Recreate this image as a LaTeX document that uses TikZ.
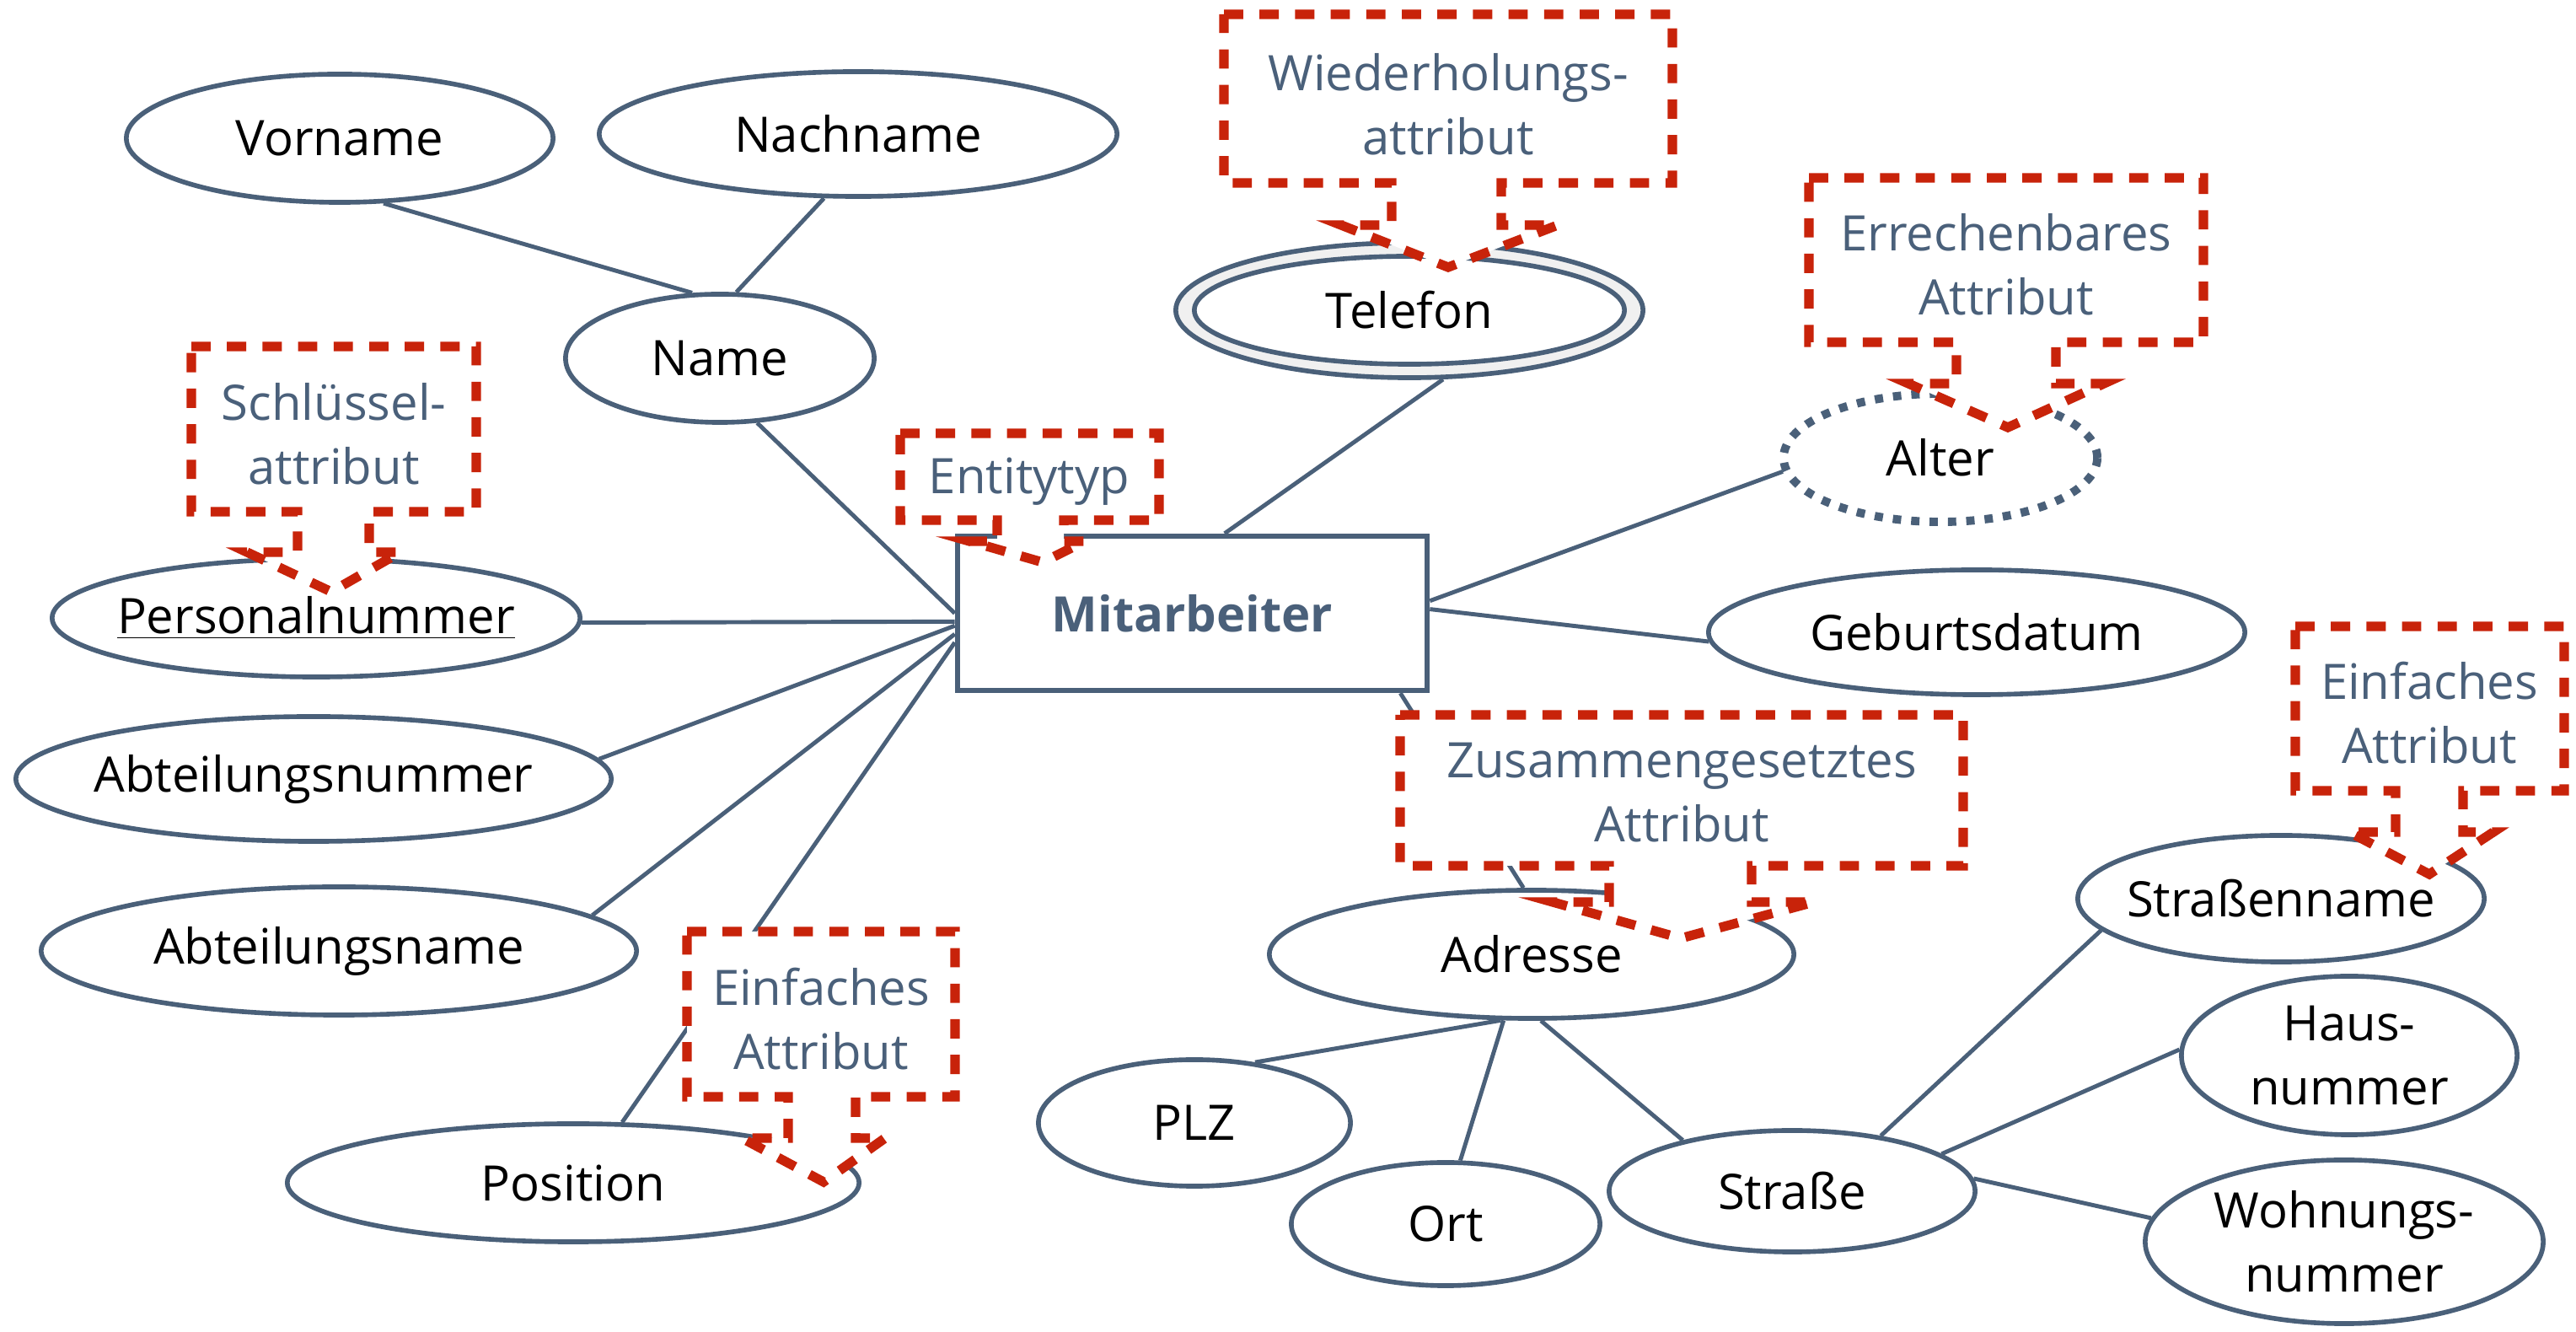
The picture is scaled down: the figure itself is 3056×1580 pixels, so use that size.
\documentclass[tikz,border=0pt]{standalone}
\usepackage{fontspec}
\setmainfont{Open Sans}
\usetikzlibrary{shapes.geometric}

\definecolor{erline}{HTML}{4A6079}
\definecolor{ertext}{HTML}{4A607A}
\definecolor{callred}{HTML}{C8230A}
\definecolor{ringgray}{HTML}{F0F0F0}

\newcommand{\erfont}{\fontsize{16.5pt}{21.6pt}\selectfont}

\begin{document}
\begin{tikzpicture}[x=0.01cm, y=-0.01cm,
  % negative inner sep: the ellipse size is set by minimum width/height only
  attr/.style={ellipse, draw=erline, line width=1.6pt, fill=white,
    font=\erfont, text=black, inner xsep=-3cm, inner ysep=-1.5cm, align=center},
  entity/.style={rectangle, draw=erline, line width=1.8pt, fill=white,
    font=\erfont\bfseries, text=ertext, inner sep=0pt},
  conn/.style={draw=erline, line width=1.4pt},
  callout/.style={draw=callred, line width=3.2pt, dash pattern=on 6.5pt off 5.5pt,
    fill=white},
  ctext/.style={font=\erfont, text=ertext, align=center, inner sep=0pt}]

% canvas
\fill[white] (0,0) rectangle (3056,1580);

% entity type
\node[entity, minimum width=5.57cm, minimum height=1.83cm] (mit) at (1414.5,727.5) {Mitarbeiter};

% attributes
\node[attr, minimum width=5.06cm, minimum height=1.52cm] (vor) at (403,164) {Vorname};
\node[attr, minimum width=6.14cm, minimum height=1.48cm] (nach) at (1018,159) {Nachname};
\node[attr, minimum width=3.66cm, minimum height=1.52cm] (name) at (854,425) {Name};
\node[attr, minimum width=6.26cm, minimum height=1.40cm] (pers) at (375,733) {\underline{Personalnummer}};
\node[attr, minimum width=7.06cm, minimum height=1.48cm] (abtnr) at (372,924) {Abteilungsnummer};
\node[attr, minimum width=7.06cm, minimum height=1.52cm] (abtname) at (402,1128) {Abteilungsname};
\node[attr, minimum width=6.78cm, minimum height=1.40cm] (pos) at (680,1403) {Position};

% multivalued attribute: double ring
\node[attr, fill=ringgray, minimum width=5.54cm, minimum height=1.60cm] (tel) at (1672,368) {};
\draw[draw=erline, line width=1.6pt, fill=white] (tel.center) ellipse [x radius=2.55cm, y radius=0.64cm];
\node[font=\erfont, inner sep=0pt] (teltext) at (tel.center) {Telefon};

% derived attribute
\node[attr, line width=2.8pt, dash pattern=on 2.8pt off 3.4pt, minimum width=3.72cm, minimum height=1.52cm] (alter) at (2302,543) {Alter};

\node[attr, minimum width=6.36cm, minimum height=1.48cm] (geb) at (2345,750) {Geburtsdatum};
\node[attr, minimum width=6.22cm, minimum height=1.52cm] (adr) at (1817,1132) {Adresse};
\node[attr, minimum width=3.70cm, minimum height=1.50cm] (plz) at (1417,1332) {PLZ};
\node[attr, minimum width=3.66cm, minimum height=1.46cm] (ort) at (1715,1452) {Ort};
\node[attr, minimum width=4.34cm, minimum height=1.44cm] (str) at (2126,1413) {Straße};
\node[attr, minimum width=4.82cm, minimum height=1.50cm] (strn) at (2706,1066) {Straßenname};
\node[attr, minimum width=3.98cm, minimum height=1.88cm] (haus) at (2787,1252) {Haus-\\nummer};
\node[attr, minimum width=4.72cm, minimum height=1.94cm] (wohn) at (2781,1473) {Wohnungs-\\nummer};

% connectors
\draw[conn] (vor.-56.5) -- (name.113.5);
\draw[conn] (nach.-118.3) -- (name.76.7);
\draw[conn] (name.-60.5) -- (mit.180);
\draw[conn] (pers.-1.1) -- (mit.182.4);
\draw[conn] (abtnr.4.8) -- (mit.183.2);
\draw[conn] (abtname.8.7) -- (mit.185);
\draw[conn] (pos.51.8) -- (mit.187.3);
\draw[conn] (tel.-64.6) -- (mit.68.7);
\draw[conn] (alter.-175.3) -- (mit.3);
\draw[conn] (geb.182.7) -- (mit.1.5);
\draw[conn] (mit.-21.6) -- (adr.97);
\draw[conn] (adr.245.2) -- (plz.45);
\draw[conn] (adr.-113.6) -- (ort.77);
\draw[conn] (adr.-82.9) -- (str.155);
\draw[conn] (str.32.9) -- (strn.190.7);
\draw[conn] (str.14.3) -- (haus.178);
\draw[conn] (str.4.9) -- (wohn.173.6);

% callouts
\draw[callout] (1452,17) -- (1984,17) -- (1984,217) -- (1781,217) -- (1781,267) -- (1848,267)
  -- (1718,317) -- (1591,267) -- (1651,267) -- (1651,217) -- (1452,217) -- cycle;
\node[ctext] (cwied) at (1718,124) {Wiederholungs-\\attribut};

\draw[callout] (227,411) -- (565,411) -- (565,607) -- (438,607) -- (438,655) -- (475,655)
  -- (393,702) -- (293,655) -- (353,655) -- (353,607) -- (227,607) -- cycle;
\node[ctext] (cschl) at (396,515) {Schlüssel-\\attribut};

\draw[callout] (1068,514) -- (1375,514) -- (1375,617) -- (1262,617) -- (1262,642) -- (1287,642)
  -- (1237,667) -- (1150,642) -- (1183,642) -- (1183,617) -- (1068,617) -- cycle;
\node[ctext] (centity) at (1221,571) {Entitytyp};

\draw[callout] (2146,211) -- (2614,211) -- (2614,406) -- (2439,406) -- (2439,455) -- (2496,455)
  -- (2382,507) -- (2264,455) -- (2321,455) -- (2321,406) -- (2146,406) -- cycle;
\node[ctext] (cerr) at (2380,314) {Errechenbares\\Attribut};

\draw[callout] (1661,848) -- (2329,848) -- (2329,1027) -- (2078,1027) -- (2078,1070) -- (2152,1070)
  -- (1994,1113) -- (1842,1070) -- (1909,1070) -- (1909,1027) -- (1661,1027) -- cycle;
\node[ctext] (czus) at (1995,940) {Zusammengesetztes\\Attribut};

\draw[callout] (815,1105) -- (1133,1105) -- (1133,1301) -- (1015,1301) -- (1015,1350) -- (1050,1350)
  -- (977,1402) -- (880,1350) -- (935,1350) -- (935,1301) -- (815,1301) -- cycle;
\node[ctext] (cepos) at (974,1209) {Einfaches\\Attribut};

\draw[callout] (2723,743) -- (3042,743) -- (3042,938) -- (2922,938) -- (2922,987) -- (2958,987)
  -- (2882,1037) -- (2787,987) -- (2842,987) -- (2842,938) -- (2723,938) -- cycle;
\node[ctext] (cestr) at (2882,846) {Einfaches\\Attribut};

\end{tikzpicture}
\end{document}
